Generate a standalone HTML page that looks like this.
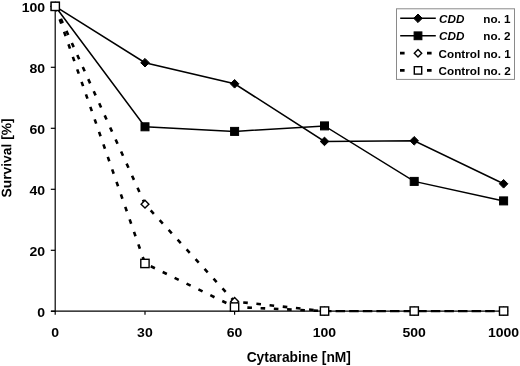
<!DOCTYPE html>
<html><head><meta charset="utf-8"><title>Survival vs Cytarabine</title>
<style>
html,body{margin:0;padding:0;background:#fff;}
svg{display:block;}
text{font-family:"Liberation Sans",Arial,Helvetica,sans-serif;font-weight:bold;fill:#000;}
.t{font-size:13.5px;}
.a{font-size:13.8px;}
.l{font-size:11.7px;}
</style></head><body>
<svg width="520" height="366" viewBox="0 0 520 366">
<rect width="520" height="366" fill="#fff"/>
<g stroke="#000" stroke-width="1.2" fill="none">
<path d="M55.2,6 V311.8"/>
<path d="M51,311.1 H504"/>
<path d="M50.8,311.3 H55.2"/>
<path d="M50.8,250.3 H55.2"/>
<path d="M50.8,189.3 H55.2"/>
<path d="M50.8,128.3 H55.2"/>
<path d="M50.8,67.3 H55.2"/>
<path d="M50.8,6.3 H55.2"/>
<path d="M55.2,311.3 V314.7"/>
<path d="M145,311.3 V314.7"/>
<path d="M234.6,311.3 V314.7"/>
<path d="M324.5,311.3 V314.7"/>
<path d="M414.2,311.3 V314.7"/>
<path d="M503.6,311.3 V314.7"/>
</g>
<text class="t" transform="translate(45.1,316.5) scale(1.04,1)" text-anchor="end">0</text>
<text class="t" transform="translate(45.1,255.5) scale(1.04,1)" text-anchor="end">20</text>
<text class="t" transform="translate(45.1,194.5) scale(1.04,1)" text-anchor="end">40</text>
<text class="t" transform="translate(45.1,133.5) scale(1.04,1)" text-anchor="end">60</text>
<text class="t" transform="translate(45.1,72.5) scale(1.04,1)" text-anchor="end">80</text>
<text class="t" transform="translate(45.1,11.5) scale(1.04,1)" text-anchor="end">100</text>
<text class="t" transform="translate(55.1,337.4) scale(1.04,1)" text-anchor="middle">0</text>
<text class="t" transform="translate(144.9,337.4) scale(1.04,1)" text-anchor="middle">30</text>
<text class="t" transform="translate(234.5,337.4) scale(1.04,1)" text-anchor="middle">60</text>
<text class="t" transform="translate(324.4,337.4) scale(1.04,1)" text-anchor="middle">100</text>
<text class="t" transform="translate(414.1,337.4) scale(1.04,1)" text-anchor="middle">500</text>
<text class="t" transform="translate(503.5,337.4) scale(1.04,1)" text-anchor="middle">1000</text>
<text class="a" x="298.8" y="362.2" text-anchor="middle">Cytarabine [nM]</text>
<text class="a" transform="translate(11.2,157.9) rotate(-89.97)" text-anchor="middle">Survival [%]</text>
<path d="M55.2,6.3 L145.0,62.7 L234.6,83.8 L324.5,141.4 L414.2,140.8 L503.6,183.8" stroke="#000" stroke-width="1.5" fill="none"/>
<path d="M55.2,6.3 L145.0,126.8 L234.6,131.4 L324.5,125.9 L414.2,181.4 L503.6,200.9" stroke="#000" stroke-width="1.5" fill="none"/>
<path d="M55.2,6.3 L145.0,204.2 L234.6,301.5 L324.5,311.1" stroke="#000" stroke-width="2.6" stroke-dasharray="4.6 8.65" stroke-dashoffset="-0.5" fill="none"/>
<path d="M324.5,311.1 H503.6" stroke="#000" stroke-width="2.4" stroke-dasharray="9.5 4.1" stroke-dashoffset="2.5" fill="none"/>
<path d="M55.2,6.3 L145.0,263.4 L234.6,307.0 L324.5,311.1" stroke="#000" stroke-width="2.6" stroke-dasharray="4.6 8.65" stroke-dashoffset="-0.5" fill="none"/>
<path d="M55.2,2.0 L59.5,6.3 L55.2,10.6 L50.9,6.3Z" fill="#000" stroke="#000" stroke-width="1"/>
<path d="M145.0,58.4 L149.3,62.7 L145.0,67.0 L140.7,62.7Z" fill="#000" stroke="#000" stroke-width="1"/>
<path d="M234.6,79.5 L238.9,83.8 L234.6,88.1 L230.3,83.8Z" fill="#000" stroke="#000" stroke-width="1"/>
<path d="M324.5,137.1 L328.8,141.4 L324.5,145.7 L320.2,141.4Z" fill="#000" stroke="#000" stroke-width="1"/>
<path d="M414.2,136.5 L418.5,140.8 L414.2,145.1 L409.9,140.8Z" fill="#000" stroke="#000" stroke-width="1"/>
<path d="M503.6,179.5 L507.9,183.8 L503.6,188.1 L499.3,183.8Z" fill="#000" stroke="#000" stroke-width="1"/>
<rect x="51.2" y="2.3" width="8" height="8" fill="#000" stroke="#000" stroke-width="1"/>
<rect x="141.0" y="122.8" width="8" height="8" fill="#000" stroke="#000" stroke-width="1"/>
<rect x="230.6" y="127.4" width="8" height="8" fill="#000" stroke="#000" stroke-width="1"/>
<rect x="320.5" y="121.9" width="8" height="8" fill="#000" stroke="#000" stroke-width="1"/>
<rect x="410.2" y="177.4" width="8" height="8" fill="#000" stroke="#000" stroke-width="1"/>
<rect x="499.6" y="196.9" width="8" height="8" fill="#000" stroke="#000" stroke-width="1"/>
<path d="M55.2,2.4 L59.1,6.3 L55.2,10.2 L51.3,6.3Z" fill="#fff" stroke="#000" stroke-width="1.4"/>
<path d="M145.0,200.3 L148.9,204.2 L145.0,208.1 L141.1,204.2Z" fill="#fff" stroke="#000" stroke-width="1.4"/>
<path d="M234.6,297.6 L238.5,301.5 L234.6,305.4 L230.7,301.5Z" fill="#fff" stroke="#000" stroke-width="1.4"/>
<path d="M324.5,307.2 L328.4,311.1 L324.5,315.0 L320.6,311.1Z" fill="#fff" stroke="#000" stroke-width="1.4"/>
<path d="M414.2,307.2 L418.1,311.1 L414.2,315.0 L410.3,311.1Z" fill="#fff" stroke="#000" stroke-width="1.4"/>
<path d="M503.6,307.2 L507.5,311.1 L503.6,315.0 L499.7,311.1Z" fill="#fff" stroke="#000" stroke-width="1.4"/>
<rect x="51.1" y="2.2" width="8.3" height="8.3" fill="#fff" stroke="#000" stroke-width="1.4"/>
<rect x="140.8" y="259.3" width="8.3" height="8.3" fill="#fff" stroke="#000" stroke-width="1.4"/>
<rect x="230.4" y="302.9" width="8.3" height="8.3" fill="#fff" stroke="#000" stroke-width="1.4"/>
<rect x="320.4" y="306.9" width="8.3" height="8.3" fill="#fff" stroke="#000" stroke-width="1.4"/>
<rect x="410.1" y="306.9" width="8.3" height="8.3" fill="#fff" stroke="#000" stroke-width="1.4"/>
<rect x="499.5" y="306.9" width="8.3" height="8.3" fill="#fff" stroke="#000" stroke-width="1.4"/>
<rect x="396.5" y="8.8" width="118" height="70.6" fill="#fff" stroke="#8a8a8a" stroke-width="1"/>
<path d="M400.2,18.3 H435.8" stroke="#000" stroke-width="1.5"/>
<path d="M418.0,14.0 L422.3,18.3 L418.0,22.6 L413.7,18.3Z" fill="#000" stroke="#000" stroke-width="1"/>
<path d="M400.2,35.8 H435.8" stroke="#000" stroke-width="1.5"/>
<rect x="414.1" y="31.9" width="7.8" height="7.8" fill="#000" stroke="#000" stroke-width="1"/>
<path d="M400,53.2 h4.6 M427,53.2 h4.6" stroke="#000" stroke-width="2.7"/>
<path d="M400,70.4 h4.6 M427,70.4 h4.6" stroke="#000" stroke-width="2.7"/>
<path d="M418.0,49.5 L421.7,53.2 L418.0,56.9 L414.3,53.2Z" fill="#fff" stroke="#000" stroke-width="1.4"/>
<rect x="414.3" y="66.7" width="7.4" height="7.4" fill="#fff" stroke="#000" stroke-width="1.4"/>
<text class="l" x="439" y="22.6" font-style="italic">CDD</text>
<text class="l" x="483.3" y="22.6">no. 1</text>
<text class="l" x="439" y="40.099999999999994" font-style="italic">CDD</text>
<text class="l" x="483.3" y="40.099999999999994">no. 2</text>
<text class="l" x="438.6" y="57.5">Control no. 1</text>
<text class="l" x="438.6" y="74.7">Control no. 2</text>
</svg></body></html>
